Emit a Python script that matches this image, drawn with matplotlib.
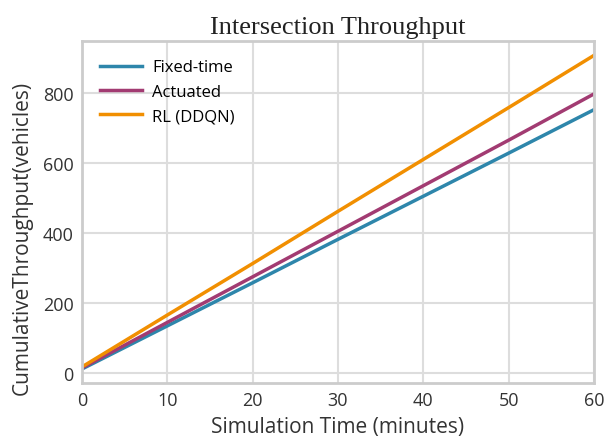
import numpy as np
import matplotlib.pyplot as plt

# data
minutes = [0, 10, 20, 30, 40, 50, 60]
fixed_time = [12, 135, 258, 382, 505, 628, 752]
actuated = [15, 145, 275, 405, 535, 665, 797]
rl_ddqn = [18, 166, 313, 462, 610, 758, 907]

plt.rcParams['font.family'] = ['Open Sans', 'DejaVu Sans']

fig = plt.figure(figsize=(6.04, 4.39), dpi=100)
ax = fig.add_axes([0.1358, 0.1253, 0.8476, 0.779])

ax.plot(minutes, fixed_time, c='#2E86AB', lw=2.5, label='Fixed-time')
ax.plot(minutes, actuated, c='#A23B72', lw=2.5, label='Actuated')
ax.plot(minutes, rl_ddqn, c='#F18F01', lw=2.5, label='RL (DDQN)')

ax.set_xlim(0, 60)
ax.set_ylim(-28, 948)
ax.set_xticks(range(0, 61, 10))
ax.set_yticks(range(0, 801, 200))
ax.grid(True, color='#dddddd', lw=1.5)
ax.set_axisbelow(True)
for s in ax.spines.values():
    s.set_color('#cccccc')
    s.set_linewidth(2)
ax.tick_params(length=0, labelsize=13, colors='#333333', pad=6)

ax.set_xlabel('Simulation Time (minutes)', fontsize=15, color='#333333', labelpad=5)
ax.set_ylabel('CumulativeThroughput(vehicles)', fontsize=15, color='#333333')
ax.yaxis.set_label_coords(-0.096, 0.427)
ax.set_title('Intersection Throughput', fontsize=19, family='Liberation Serif', color='#222222', pad=6)

ax.legend(loc='upper left', frameon=False, fontsize=12, handlelength=2.5, handletextpad=0.6,
          labelspacing=0.5, borderaxespad=0.7)

fig.savefig('out.png', dpi=100)
